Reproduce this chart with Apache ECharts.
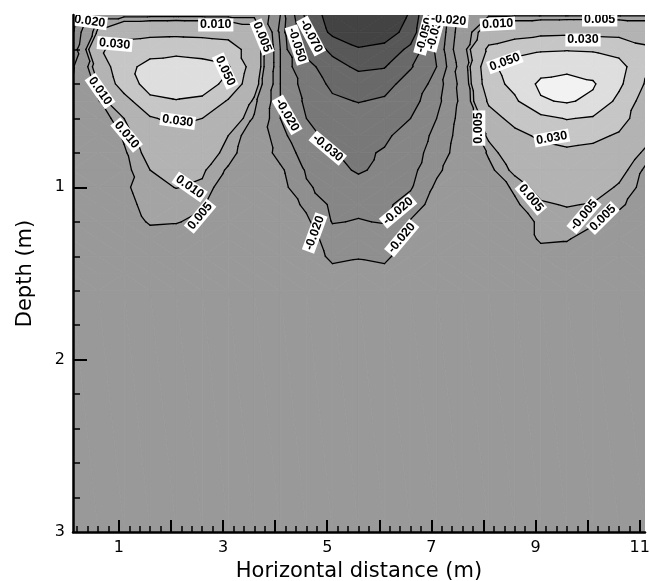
<!DOCTYPE html>
<html>
<head>
<meta charset="utf-8">
<script src="https://cdn.jsdelivr.net/npm/echarts@6/dist/echarts.min.js"></script>
<style>
  html, body { margin: 0; padding: 0; background: #fff; }
  #chart { width: 650px; height: 581px; }
</style>
</head>
<body>
<div id="chart"></div>
<script>
// grid nodes of the field (m)
const xNodes = [0.1, 0.6, 1.1, 1.6, 2.1, 2.6, 3.1, 3.6, 4.1, 4.6, 5.1, 5.6,
                6.1, 6.6, 7.1, 7.6, 8.1, 8.6, 9.1, 9.6, 10.1, 10.6, 11.1];
const depthNodes = [0, 0.1, 0.2, 0.3, 0.4, 0.5, 0.6, 0.7, 0.8, 0.9, 1.0,
                    1.1, 1.2, 1.3, 1.4, 1.5, 1.6, 3.0];

// field values, one row per depth node
const field = [
  [-0.025, 0.003, 0.003, 0.003, 0.003, 0.003, 0.003, 0.003, -0.02, -0.075, -0.1, -0.11, -0.105, -0.088, -0.032, 0.002, 0.004, 0.004, 0.004, 0.004, 0.004, 0.004, 0.004],
  [-0.022, 0.012, 0.022, 0.024, 0.025, 0.024, 0.022, 0.016, -0.022, -0.068, -0.095, -0.105, -0.1, -0.082, -0.03, -0.002, 0.018, 0.022, 0.025, 0.026, 0.026, 0.025, 0.022],
  [-0.019, 0.026, 0.04, 0.044, 0.045, 0.043, 0.04, 0.02, -0.02, -0.058, -0.074, -0.088, -0.084, -0.065, -0.028, 0.0, 0.034, 0.042, 0.048, 0.049, 0.048, 0.042, 0.033],
  [-0.012, 0.016, 0.045, 0.055, 0.058, 0.056, 0.052, 0.02, -0.02, -0.042, -0.064, -0.073, -0.071, -0.052, -0.03, -0.004, 0.045, 0.06, 0.062, 0.064, 0.062, 0.058, 0.032],
  [-0.01, 0.01, 0.04, 0.057, 0.06, 0.057, 0.046, 0.016, -0.02, -0.035, -0.055, -0.062, -0.058, -0.04, -0.025, -0.006, 0.042, 0.055, 0.074, 0.078, 0.072, 0.054, 0.029],
  [-0.007, 0.004, 0.022, 0.046, 0.049, 0.047, 0.028, 0.008, -0.02, -0.032, -0.046, -0.051, -0.047, -0.034, -0.023, -0.007, 0.033, 0.047, 0.068, 0.072, 0.066, 0.045, 0.022],
  [-0.005, 0.0, 0.01, 0.028, 0.035, 0.03, 0.018, 0.004, -0.02, -0.03, -0.037, -0.04, -0.037, -0.03, -0.02, -0.006, 0.022, 0.036, 0.045, 0.051, 0.048, 0.037, 0.02],
  [-0.004, -0.002, 0.006, 0.018, 0.024, 0.02, 0.01, 0.0, -0.017, -0.028, -0.032, -0.035, -0.032, -0.025, -0.018, -0.005, 0.012, 0.025, 0.033, 0.036, 0.034, 0.028, 0.015],
  [-0.003, -0.002, 0.004, 0.013, 0.016, 0.014, 0.008, -0.001, -0.014, -0.024, -0.029, -0.032, -0.029, -0.024, -0.016, -0.004, 0.006, 0.017, 0.024, 0.027, 0.025, 0.02, 0.008],
  [-0.002, -0.002, 0.003, 0.01, 0.012, 0.011, 0.004, -0.001, -0.008, -0.021, -0.026, -0.0315, -0.027, -0.023, -0.012, -0.003, 0.003, 0.012, 0.018, 0.02, 0.018, 0.013, 0.004],
  [-0.002, -0.002, 0.004, 0.008, 0.0102, 0.009, 0.0, -0.001, -0.006, -0.019, -0.023, -0.025, -0.024, -0.021, -0.008, -0.002, 0.001, 0.006, 0.013, 0.016, 0.014, 0.009, 0.003],
  [-0.002, -0.002, 0.003, 0.007, 0.007, 0.006, 0.0, -0.001, -0.004, -0.012, -0.022, -0.022, -0.022, -0.016, -0.005, -0.001, 0.0, 0.004, 0.009, 0.0105, 0.0095, 0.006, 0.002],
  [-0.002, -0.002, 0.0, 0.006, 0.0055, 0.003, -0.001, -0.001, -0.003, -0.008, -0.0205, -0.0195, -0.0205, -0.009, -0.003, -0.001, -0.001, 0.002, 0.006, 0.007, 0.006, 0.003, 0.001],
  [-0.002, -0.002, -0.001, 0.001, 0.001, 0.0, -0.001, -0.001, -0.002, -0.004, -0.016, -0.015, -0.016, -0.005, -0.002, -0.001, -0.001, 0.0, 0.006, 0.0055, 0.002, 0.0, 0.0],
  [-0.002, -0.002, -0.001, -0.001, -0.001, -0.001, -0.001, -0.001, -0.001, -0.002, -0.013, -0.011, -0.013, -0.002, -0.001, -0.001, -0.001, -0.001, 0.002, 0.002, 0.0, -0.001, -0.001],
  [-0.002, -0.002, -0.001, -0.001, -0.001, -0.001, -0.001, -0.001, -0.001, -0.001, -0.006, -0.005, -0.006, -0.001, -0.001, -0.001, -0.001, -0.001, -0.001, -0.001, -0.001, -0.001, -0.001],
  [-0.001, -0.001, -0.001, -0.001, -0.001, -0.001, -0.001, -0.001, -0.001, -0.001, -0.001, -0.001, -0.001, -0.001, -0.001, -0.001, -0.001, -0.001, -0.001, -0.001, -0.001, -0.001, -0.001],
  [-0.001, -0.001, -0.001, -0.001, -0.001, -0.001, -0.001, -0.001, -0.001, -0.001, -0.001, -0.001, -0.001, -0.001, -0.001, -0.001, -0.001, -0.001, -0.001, -0.001, -0.001, -0.001, -0.001]
];

const levels = [-0.09, -0.07, -0.05, -0.03, -0.02, -0.01, 0.005, 0.01, 0.03, 0.05, 0.07];
// one grey per band, darkest band first
const bandColors = ['#434343', '#585858', '#696969', '#787878', '#868686', '#8f8f8f',
                    '#999999', '#a4a4a4', '#b3b3b3', '#c6c6c6', '#dedede', '#f2f2f2'];

const xTickLabels = [1, 3, 5, 7, 9, 11];
const yTickLabels = [1, 2, 3];

// contour labels: text, x (m), depth (m), angle (deg)
const contourLabels = [
  ['-0.020', 0.40, 0.035, -8],
  ['0.010', 2.86, 0.058, 0],
  ['0.005', 3.75, 0.128, -68],
  ['0.030', 0.92, 0.168, -5],
  ['0.050', 3.04, 0.325, -65],
  ['0.010', 0.64, 0.441, -55],
  ['0.030', 2.13, 0.615, -8],
  ['0.010', 1.15, 0.696, -50],
  ['0.010', 2.36, 0.998, -35],
  ['0.005', 2.56, 1.167, 50],
  ['-0.070', 4.69, 0.122, -62],
  ['-0.050', 4.42, 0.174, -72],
  ['-0.020', 4.23, 0.580, -60],
  ['-0.030', 5.01, 0.772, -40],
  ['-0.050', 6.87, 0.116, 75],
  ['-0.030', 7.07, 0.099, 75],
  ['-0.020', 7.33, 0.029, -5],
  ['-0.020', 4.76, 1.265, 70],
  ['-0.020', 6.36, 1.138, 40],
  ['-0.020', 6.43, 1.294, 50],
  ['0.010', 8.27, 0.052, 3],
  ['0.005', 10.23, 0.029, 0],
  ['0.030', 9.91, 0.145, 0],
  ['0.050', 8.41, 0.273, 20],
  ['0.005', 7.91, 0.656, 90],
  ['0.030', 9.31, 0.714, 10],
  ['0.005', 8.91, 1.062, -50],
  ['-0.005', 9.93, 1.161, 50],
  ['0.005', 10.29, 1.178, 45]
];

// tick positions
const xMajorTicks = [];
const xMinorTicks = [];
for (let k = 1; k <= 55; k++) {
  const v = Math.round(k * 2) / 10;
  if (k % 5 === 0) xMajorTicks.push(v); else xMinorTicks.push(v);
}
const yMajorTicks = [1, 2];
const yMinorTicks = [];
for (let k = 1; k < 15; k++) {
  if (k % 5 !== 0) yMinorTicks.push(Math.round(k * 2) / 10);
}

// cut every grid cell into two triangles, along the flatter diagonal
const triangles = [];
for (let j = 0; j < depthNodes.length - 1; j++) {
  for (let i = 0; i < xNodes.length - 1; i++) {
    const p = (a, b) => [xNodes[a], depthNodes[b], field[b][a]];
    const p00 = p(i, j), p10 = p(i + 1, j), p01 = p(i, j + 1), p11 = p(i + 1, j + 1);
    if (Math.abs(p00[2] - p11[2]) <= Math.abs(p10[2] - p01[2])) {
      triangles.push([p00, p10, p11], [p00, p11, p01]);
    } else {
      triangles.push([p00, p10, p01], [p10, p11, p01]);
    }
  }
}

function clipPoly(poly, t, keepAbove) {
  const inside = q => keepAbove ? q[2] >= t : q[2] <= t;
  const out = [];
  for (let n = 0; n < poly.length; n++) {
    const a = poly[n], b = poly[(n + 1) % poly.length];
    const ia = inside(a), ib = inside(b);
    if (ia) out.push(a);
    if (ia !== ib) {
      const s = (t - a[2]) / (b[2] - a[2]);
      out.push([a[0] + s * (b[0] - a[0]), a[1] + s * (b[1] - a[1]), t]);
    }
  }
  return out;
}

// filled bands
const pieces = [];
triangles.forEach(tri => {
  for (let k = 0; k <= levels.length; k++) {
    let poly = tri;
    if (k > 0) poly = clipPoly(poly, levels[k - 1], true);
    if (k < levels.length && poly.length) poly = clipPoly(poly, levels[k], false);
    if (poly.length >= 3) pieces.push({ band: k, pts: poly.map(q => [q[0], q[1]]) });
  }
});

// contour line segments
const segments = [];
triangles.forEach(tri => {
  levels.forEach(t => {
    const pts = [];
    for (let n = 0; n < 3; n++) {
      const a = tri[n], b = tri[(n + 1) % 3];
      if ((a[2] < t) !== (b[2] < t)) {
        const s = (t - a[2]) / (b[2] - a[2]);
        pts.push([a[0] + s * (b[0] - a[0]), a[1] + s * (b[1] - a[1])]);
      }
    }
    if (pts.length === 2) segments.push(pts);
  });
});

const chart = echarts.init(document.getElementById('chart'));
const axisFont = 'DejaVu Sans';

const option = {
  animation: false,
  grid: { left: 73, right: 5, top: 15, bottom: 49, outerBoundsMode: 'none', containLabel: false },
  xAxis: [
    {
      type: 'value', min: 0.12, max: 11.1, position: 'bottom', z: 10,
      name: 'Horizontal distance (m)', nameLocation: 'middle', nameGap: 17,
      nameTextStyle: { fontFamily: axisFont, fontSize: 21, color: '#000' },
      axisLine: { onZero: false, lineStyle: { color: '#000', width: 2.5 } },
      axisTick: { inside: true, length: 12, customValues: xMajorTicks, lineStyle: { color: '#000', width: 2 } },
      axisLabel: { customValues: xTickLabels, fontFamily: axisFont, fontSize: 16, color: '#000', margin: 8 },
      splitLine: { show: false }
    },
    {
      type: 'value', min: 0.12, max: 11.1, position: 'bottom', z: 10,
      axisLine: { show: false, onZero: false },
      axisTick: { inside: true, length: 6, customValues: xMinorTicks, lineStyle: { color: '#000', width: 1.5 } },
      axisLabel: { show: false },
      splitLine: { show: false }
    }
  ],
  yAxis: [
    {
      type: 'value', min: 0, max: 3, inverse: true, position: 'left', z: 10,
      name: 'Depth (m)', nameLocation: 'middle', nameGap: 37, nameRotate: 90,
      nameTextStyle: { fontFamily: axisFont, fontSize: 21, color: '#000' },
      axisLine: { onZero: false, lineStyle: { color: '#000', width: 2.5 } },
      axisTick: { inside: true, length: 14, customValues: yMajorTicks, lineStyle: { color: '#000', width: 2 } },
      axisLabel: { customValues: yTickLabels, fontFamily: axisFont, fontSize: 16, color: '#000', margin: 8 },
      splitLine: { show: false }
    },
    {
      type: 'value', min: 0, max: 3, inverse: true, position: 'left', z: 10,
      axisLine: { show: false, onZero: false },
      axisTick: { inside: true, length: 7, customValues: yMinorTicks, lineStyle: { color: '#000', width: 1.5 } },
      axisLabel: { show: false },
      splitLine: { show: false }
    }
  ],
  series: [
    {
      type: 'custom', name: 'bands', silent: true, clip: true, z: 1,
      data: [[0.12, 0]],
      renderItem: (params, api) => ({
        type: 'group',
        children: pieces.map(pc => ({
          type: 'polygon',
          shape: { points: pc.pts.map(q => api.coord(q)) },
          style: { fill: bandColors[pc.band], stroke: bandColors[pc.band], lineWidth: 0.8 }
        }))
      })
    },
    {
      type: 'custom', name: 'lines', silent: true, clip: true, z: 2,
      data: [[0.12, 0]],
      renderItem: (params, api) => ({
        type: 'group',
        children: segments.map(sg => ({
          type: 'polyline',
          shape: { points: sg.map(q => api.coord(q)) },
          style: { stroke: '#000', lineWidth: 1.3, lineCap: 'round', fill: null }
        }))
      })
    },
    {
      type: 'custom', name: 'labels', silent: true, clip: true, z: 3,
      data: contourLabels.map(l => [l[1], l[2]]),
      renderItem: (params, api) => {
        const lab = contourLabels[params.dataIndex];
        const pt = api.coord([api.value(0), api.value(1)]);
        return {
          type: 'text',
          x: pt[0], y: pt[1],
          rotation: lab[3] * Math.PI / 180,
          style: {
            text: lab[0],
            font: 'bold 12.5px "Liberation Sans", Arial, sans-serif',
            fill: '#000',
            align: 'center', verticalAlign: 'middle',
            textAlign: 'center', textVerticalAlign: 'middle',
            backgroundColor: '#fff',
            padding: [0, 2]
          }
        };
      }
    }
  ]
};

chart.setOption(option);
</script>
</body>
</html>
